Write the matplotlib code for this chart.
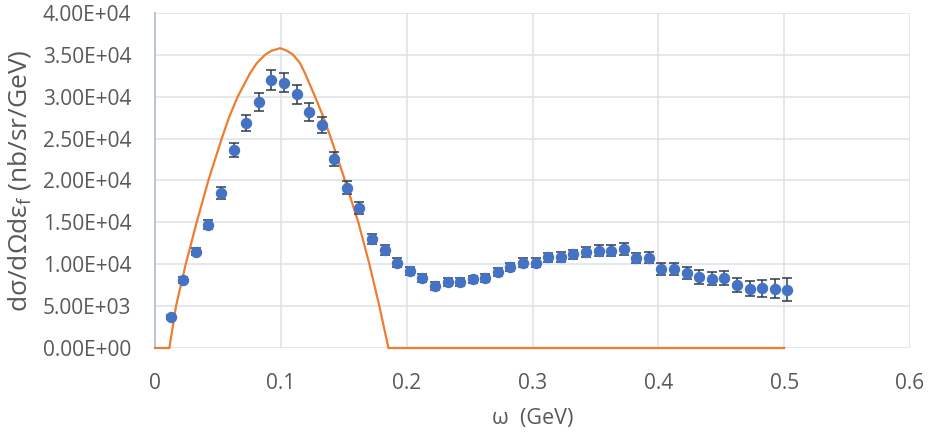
import matplotlib
matplotlib.use("Agg")
import matplotlib.pyplot as plt
from matplotlib.ticker import FuncFormatter, MultipleLocator

# measured cross section, bin centres in GeV
omega = [0.0125, 0.0225, 0.0325, 0.0425, 0.0525, 0.0625, 0.0725, 0.0825, 0.0925, 0.1025,
         0.1125, 0.1225, 0.1325, 0.1425, 0.1525, 0.1625, 0.1725, 0.1825, 0.1925, 0.2025,
         0.2125, 0.2225, 0.2325, 0.2425, 0.2525, 0.2625, 0.2725, 0.2825, 0.2925, 0.3025,
         0.3125, 0.3225, 0.3325, 0.3425, 0.3525, 0.3625, 0.3725, 0.3825, 0.3925, 0.4025,
         0.4125, 0.4225, 0.4325, 0.4425, 0.4525, 0.4625, 0.4725, 0.4825, 0.4925, 0.5025]
xsec = [3700, 8120, 11500, 14720, 18500, 23640, 26900, 29400, 32000, 31680,
        30300, 28180, 26630, 22570, 19130, 16700, 12980, 11700, 10190, 9190,
        8320, 7400, 7920, 7880, 8200, 8390, 9110, 9670, 10190, 10190,
        10830, 10870, 11220, 11430, 11620, 11620, 11860, 10780, 10780, 9400,
        9430, 8990, 8480, 8270, 8360, 7520, 7080, 7130, 7050, 6960]
xsec_err = [200, 330, 430, 570, 700, 840, 940, 1050, 1150, 1170,
            1150, 1110, 970, 860, 780, 740, 620, 560, 520, 470,
            470, 450, 470, 470, 450, 470, 470, 490, 520, 520,
            540, 560, 540, 580, 640, 640, 700, 620, 680, 700,
            700, 740, 780, 800, 800, 860, 920, 1030, 1130, 1350]

# model curve (Fermi gas style quasi-elastic peak)
model_omega = [0.0, 0.0114, 0.0167, 0.0244, 0.0331, 0.0424, 0.0477, 0.053, 0.059, 0.0657,
               0.0755, 0.0808, 0.0874, 0.0927, 0.0995, 0.1047, 0.1099, 0.1153, 0.1192,
               0.1272, 0.1338, 0.1399, 0.1457, 0.151, 0.1616, 0.1704, 0.1783, 0.1855, 0.5]
model_xsec = [0, 0, 5000, 10000, 15000, 20000, 22500, 25000, 27600, 30000,
              32800, 34000, 35000, 35500, 35800, 35500, 35000, 34000, 32800,
              30000, 27600, 25000, 22400, 20000, 15000, 10000, 5000, 0, 0]

plt.rcParams['font.family'] = ['Open Sans', 'DejaVu Sans']
txt = '#595959'

fig = plt.figure(figsize=(9.31, 4.34), dpi=100)
ax = fig.add_axes([155 / 931, 86 / 434, 755 / 931, 335 / 434])

ax.plot(model_omega, model_xsec, color='#ED7D31', lw=1.6, zorder=3, clip_on=False)
ax.errorbar(omega, xsec, yerr=xsec_err, fmt='o', color='#4472C4', ms=7.2,
            ecolor='#2F3A4C', elinewidth=1.1, capsize=3.6, capthick=1.1, zorder=4)

ax.set_xlim(0, 0.6)
ax.set_ylim(0, 40000)
ax.xaxis.set_major_locator(MultipleLocator(0.1))
ax.yaxis.set_major_locator(MultipleLocator(5000))
ax.xaxis.set_major_formatter(FuncFormatter(lambda v, p: '0' if abs(v) < 1e-9 else f'{v:g}'))
ax.yaxis.set_major_formatter(FuncFormatter(lambda v, p: f'{v:.2E}'))

ax.grid(True, color='#DDE1E8', lw=1.1, zorder=0)
ax.set_axisbelow(True)
for s in ['top', 'right', 'bottom']:
    ax.spines[s].set_visible(False)
ax.spines['left'].set_color('#B8C3D6')
ax.spines['left'].set_linewidth(1.4)

ax.tick_params(length=0, labelsize=15, labelcolor=txt)
ax.tick_params(axis='y', pad=17)
ax.tick_params(axis='x', pad=18)

ax.set_xlabel('ω  (GeV)', fontsize=15.5, color=txt)
ax.set_ylabel(r'dσ/dΩdε$_\mathregular{f}$ (nb/sr/GeV)', fontsize=19, color=txt)
ax.xaxis.set_label_coords(0.5, -0.179)
ax.yaxis.set_label_coords(-0.1616, 0.5)

fig.savefig('out.png', dpi=100)
